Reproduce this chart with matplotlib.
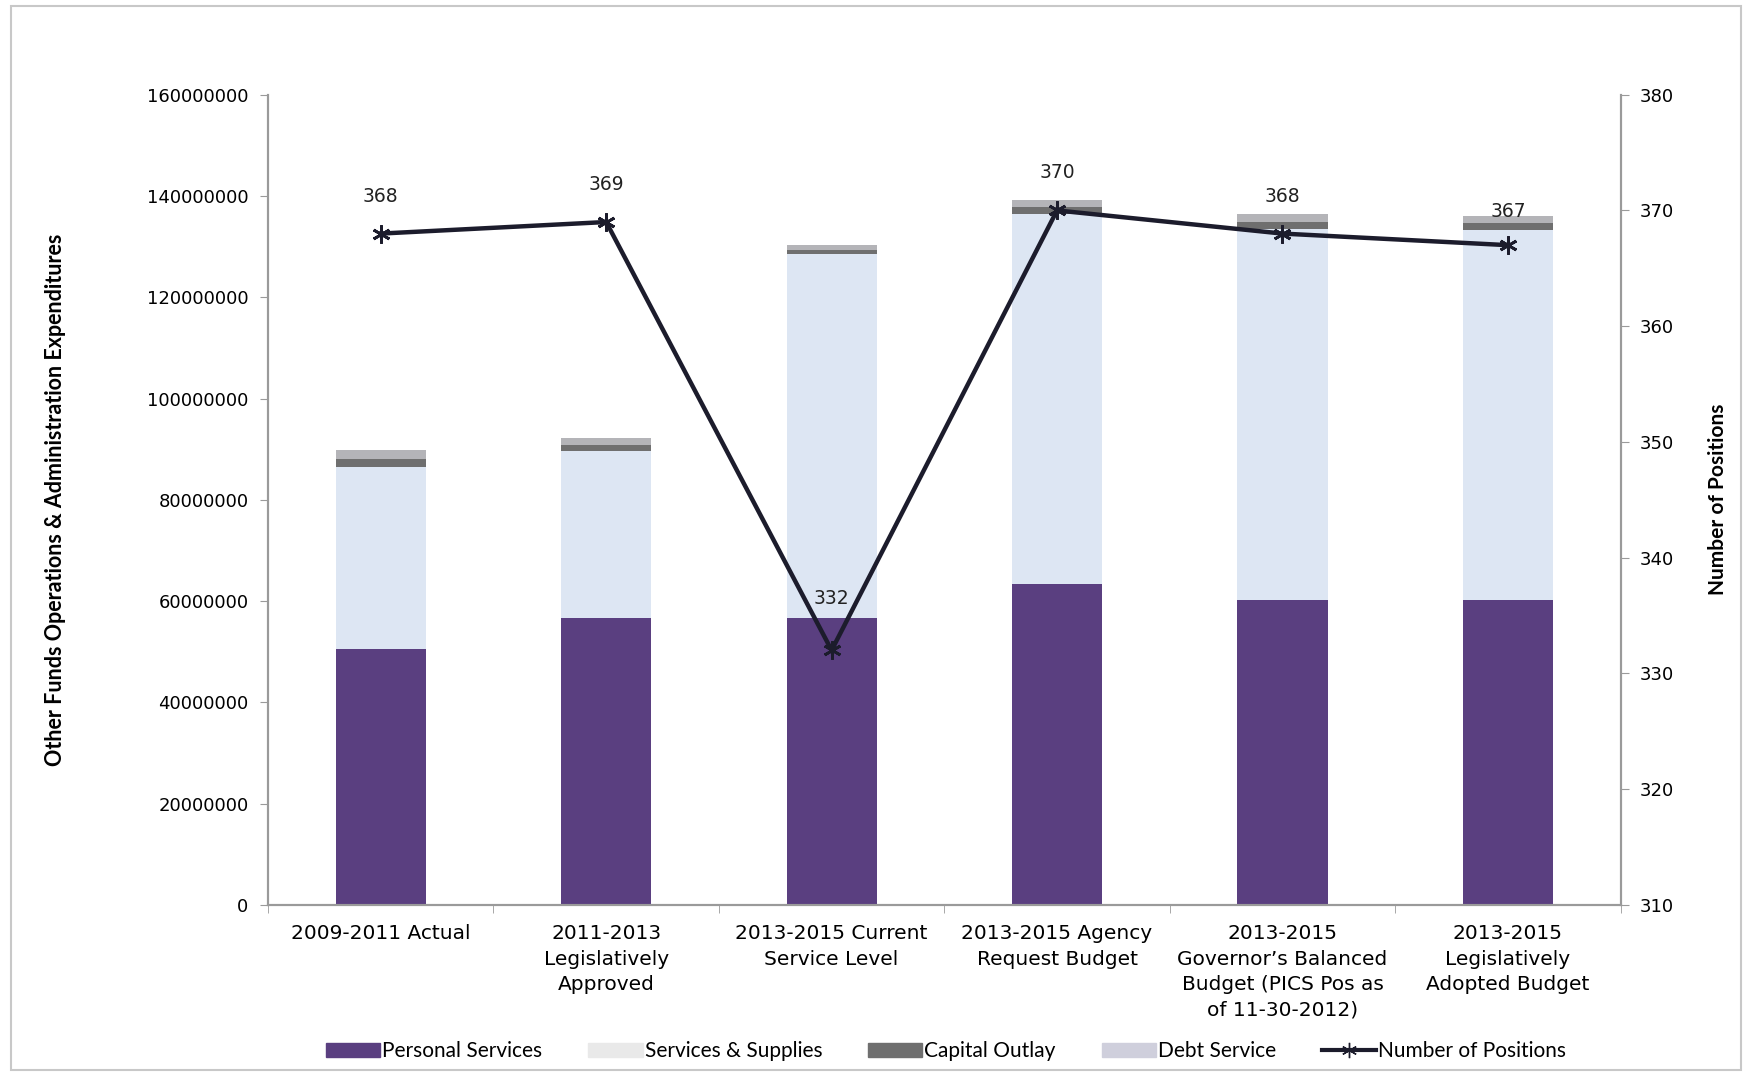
import matplotlib.pyplot as plt
import numpy as np
from matplotlib.patches import Rectangle
from matplotlib.lines import Line2D

# Biennium categories
categories = [
    "2009-2011 Actual",
    "2011-2013\nLegislatively\nApproved",
    "2013-2015 Current\nService Level",
    "2013-2015 Agency\nRequest Budget",
    "2013-2015\nGovernor\u2019s Balanced\nBudget (PICS Pos as\nof 11-30-2012)",
    "2013-2015\nLegislatively\nAdopted Budget",
]

# Expenditures by type (dollars)
personal_services = [50500000, 56700000, 56700000, 63300000, 60300000, 60300000]
services_supplies = [36000000, 32900000, 71800000, 73200000, 73200000, 73000000]
capital_outlay = [1500000, 1300000, 800000, 1300000, 1300000, 1300000]
debt_service = [1900000, 1300000, 1100000, 1500000, 1600000, 1400000]

# Number of positions (right axis)
positions = [368, 369, 332, 370, 368, 367]

plt.rcParams['font.family'] = ['DejaVu Sans']

fig = plt.figure(figsize=(17.52, 10.76), dpi=100)
ax = fig.add_axes([0.153, 0.159, 0.772, 0.753])
ax2 = ax.twinx()

# Thin frame around the whole chart area
fig.patches.append(Rectangle((0.006, 0.006), 0.988, 0.988, transform=fig.transFigure,
                             fill=False, edgecolor='#c8c8c8', linewidth=1.5))

x = np.arange(len(categories))
w = 0.4
c_ps, c_ss, c_co, c_ds = '#5a3f80', '#dde6f3', '#6f6f6f', '#cfcfdc'

b1 = np.array(personal_services)
b2 = b1 + np.array(services_supplies)
b3 = b2 + np.array(capital_outlay)
ax.bar(x, personal_services, w, color=c_ps, zorder=2)
ax.bar(x, services_supplies, w, bottom=b1, color=c_ss, zorder=2)
ax.bar(x, capital_outlay, w, bottom=b2, color=c_co, zorder=2)
ax.bar(x, debt_service, w, bottom=b3, color='#b4b4b8', zorder=2)

ax.set_xlim(-0.5, 5.5)
ax.set_ylim(0, 160000000)
ax.set_yticks(np.arange(0, 160000001, 20000000))
ax.set_yticklabels([str(v) for v in range(0, 160000001, 20000000)])
ax.set_xticks(x)
ax.set_xticklabels(categories, fontsize=14.5, linespacing=1.42)
ax.set_xticks(np.arange(-0.5, 6, 1), minor=True)
ax.tick_params(axis='x', which='major', length=0, pad=14)
ax.tick_params(axis='x', which='minor', length=6, color='#9a9a9a')
ax.tick_params(axis='y', labelsize=13, length=6, color='#9a9a9a', pad=8)

ax2.set_ylim(310, 380)
ax2.set_yticks(np.arange(310, 381, 10))
ax2.tick_params(axis='y', labelsize=13, length=6, color='#9a9a9a', pad=8)

for a in (ax, ax2):
    a.spines['top'].set_visible(False)
    for s in ('left', 'right', 'bottom'):
        a.spines[s].set_color('#9a9a9a')
        a.spines[s].set_linewidth(1.5)

ax2.plot(x, positions, color='#1c1c2c', linewidth=3.2, marker=(6, 2, 0),
         markersize=13, markeredgewidth=2, zorder=5)
ax2.set_zorder(ax.get_zorder() + 1)
ax2.patch.set_visible(False)

offsets = [27, 27, 37, 27, 27, 24]
for xi, v, off in zip(x, positions, offsets):
    ax2.annotate(str(v), (xi, v), xytext=(0, off), textcoords='offset points',
                 ha='center', va='center', fontsize=13.5, color='#222222')

ax.set_ylabel('Other Funds Operations & Administration Expenditures', family='Lato',
              fontweight='bold', fontsize=15.5, labelpad=58)
ax2.set_ylabel('Number of Positions', family='Lato', fontweight='bold', fontsize=15,
               labelpad=24)

handles = [
    Rectangle((0, 0), 1, 1, color=c_ps),
    Rectangle((0, 0), 1, 1, color='#e9e9e9'),
    Rectangle((0, 0), 1, 1, color=c_co),
    Rectangle((0, 0), 1, 1, color=c_ds),
    Line2D([], [], color='#1c1c2c', linewidth=3, marker=(6, 2, 0), markersize=11),
]
labels = ['Personal Services', 'Services & Supplies', 'Capital Outlay', 'Debt Service',
          'Number of Positions']
fig.legend(handles, labels, loc='center', bbox_to_anchor=(0.54, 0.023), ncol=5,
           frameon=False, prop={'family': 'Lato', 'size': 15}, handlelength=2.6,
           handleheight=0.6, handletextpad=0.1, columnspacing=2.2)

fig.savefig('out.png', dpi=100)
